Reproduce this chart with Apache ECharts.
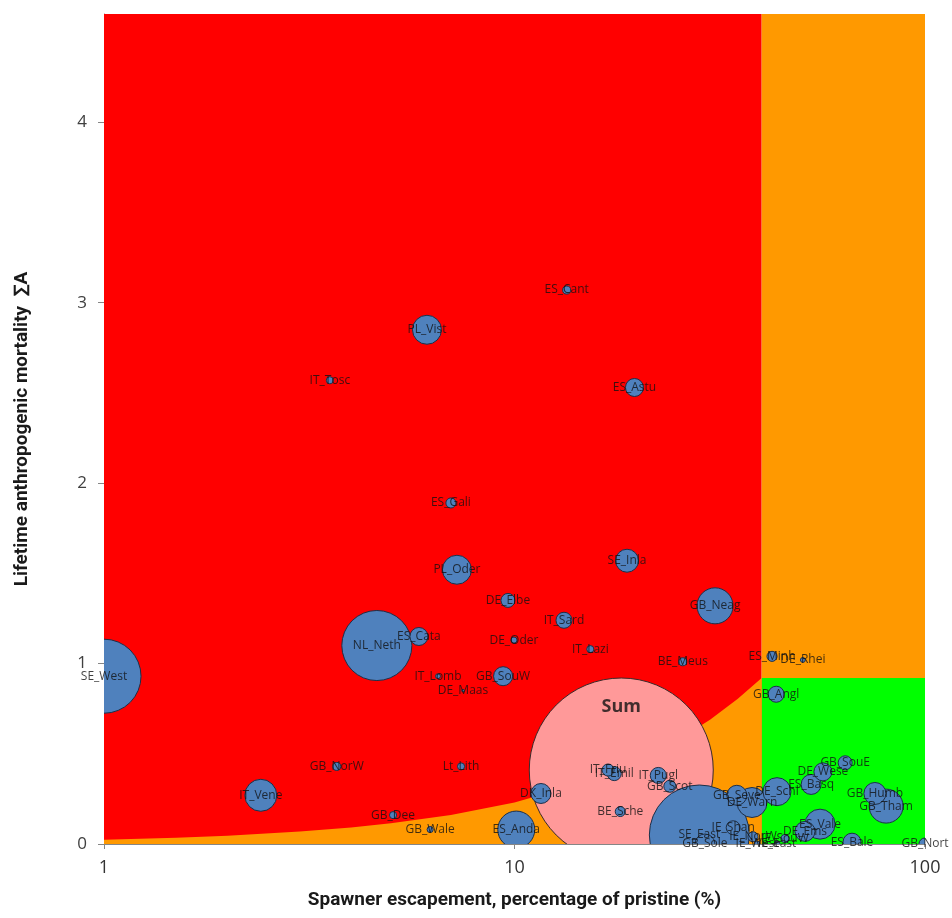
<!DOCTYPE html>
<html>
<head>
<meta charset="utf-8">
<script src="https://cdn.jsdelivr.net/npm/echarts@6/dist/echarts.min.js"></script>
<style>
html,body{margin:0;padding:0;background:#fff;}
#chart{width:952px;height:918px;}
</style>
</head>
<body>
<div id="chart"></div>
<script>
// ---- data ----
const emuNames = ['ES_Cant','PL_Vist','IT_Tosc','ES_Astu','ES_Gali','PL_Oder','SE_Inla','DE_Elbe','GB_Neag','IT_Sard',
  'NL_Neth','ES_Cata','DE_Oder','IT_Lazi','BE_Meus','ES_Minh','DE_Rhei','GB_Angl','SE_West','IT_Lomb',
  'GB_SouW','DE_Maas','IT_Vene','GB_NorW','Lt_Lith','GB_Dee','GB_Wale','DK_Inla','ES_Anda','IT_Friu',
  'IT_Emil','IT_Pugl','GB_Scot','BE_Sche','SE_East','GB_Sole','IE_Shan','IE_NorW','IE_SouW','IE_West',
  'IE_East','DE_Ems','ES_Vale','ES_Bale','GB_Nort','DE_Wese','GB_SouE','ES_Basq','GB_Humb','GB_Tham',
  'DE_Schl','GB_Seve','DE_Warn'];
// spawner escapement, % of pristine
const escapement = [13.4,6.12,3.55,19.6,7.0,7.24,18.8,9.64,30.8,13.2,
  4.62,5.85,9.97,15.3,25.7,42.4,50.4,43.4,1.0,6.51,
  9.38,7.49,2.41,3.69,7.41,5.06,6.23,11.6,10.1,16.9,
  17.5,22.4,23.9,18.1,28.2,29.1,34.1,38.1,45.6,39.0,
  43.6,51.0,55.5,66.4,100,56.4,63.9,52.8,75.5,80.4,
  43.6,34.8,37.9];
// lifetime anthropogenic mortality, sum A
const mortality = [3.07,2.85,2.57,2.53,1.89,1.52,1.57,1.35,1.32,1.24,
  1.10,1.15,1.13,1.08,1.01,1.04,1.02,0.83,0.93,0.93,
  0.93,0.85,0.27,0.43,0.43,0.16,0.08,0.28,0.08,0.41,
  0.39,0.38,0.32,0.18,0.05,0.0,0.09,0.04,0.03,0.0,
  0.0,0.07,0.11,0.01,0.0,0.40,0.45,0.33,0.28,0.21,
  0.29,0.27,0.23];
// bubble size (relative stock units, Sum = 100)
const stockSize = [0.19,2.48,0.15,0.96,0.30,2.48,1.56,0.58,3.83,0.76,
  14.5,0.96,0.11,0.15,0.19,0.30,0.07,0.76,16.2,0.07,
  1.07,0.02,3.02,0.19,0.15,0.15,0.11,1.18,4.04,0.43,
  0.58,0.76,0.43,0.30,29.5,1.18,0.58,0.30,0.19,0.11,
  0.11,1.18,2.66,0.96,0.43,0.96,0.58,1.18,1.43,3.41,
  2.32,1.18,2.66];
const sumName = 'Sum';
const sumEscapement = 18.2;
const sumMortality = 0.41;
const sumSize = 100;

// reference zones
const targetEscapement = 40;
const mortalityLimit = 0.92;
const axisTop = 4.6;
const limitCurveB = [1, 1.5, 2, 3, 4, 5, 7, 10, 15, 20, 25, 30, 35, 40];
const limitCurveA = [0.023, 0.0345, 0.046, 0.069, 0.092, 0.115, 0.161, 0.23, 0.345, 0.46, 0.575, 0.69, 0.805, 0.92];

const xTicks = [1, 10, 100];
const yTicks = [0, 1, 2, 3, 4];

const xTitle = 'Spawner escapement, percentage of pristine (%)';
const yTitle = 'Lifetime anthropogenic mortality  \u2211A';

// ---- build ----
const R_SCALE = 9.2;
const order = emuNames.map((_, i) => i).sort((a, b) => stockSize[b] - stockSize[a]);
const bubbleData = order.map(i => [escapement[i], mortality[i], stockSize[i]]);
const labelData = emuNames.map((n, i) => ({ name: n, value: [escapement[i], mortality[i]] }));

function zone(data, color) {
  return {
    type: 'line', data: data, symbol: 'none', silent: true,
    lineStyle: { width: 0, opacity: 0 },
    areaStyle: { color: color, opacity: 1 },
    z: 1
  };
}

const bubbleRender = (fill, stroke) => (params, api) => {
  const p = api.coord([api.value(0), api.value(1)]);
  const r = R_SCALE * Math.sqrt(api.value(2));
  return { type: 'circle', shape: { cx: p[0], cy: p[1], r: r },
    style: { fill: fill, stroke: stroke, lineWidth: 1 } };
};

const chart = echarts.init(document.getElementById('chart'), null, { renderer: 'canvas' });
chart.setOption({
  animation: false,
  backgroundColor: '#ffffff',
  grid: { left: 104, right: 27, top: 14, bottom: 74 },
  xAxis: {
    type: 'log', logBase: 10, min: 1, max: 100,
    axisLine: { show: true, lineStyle: { color: '#868686', width: 1 } },
    axisTick: { show: true, length: 5, lineStyle: { color: '#868686' } },
    splitLine: { show: false },
    minorTick: { show: false },
    axisLabel: { fontSize: 18, color: '#333', fontFamily: 'Open Sans', margin: 15 },
    name: xTitle, nameLocation: 'middle', nameGap: 47,
    nameTextStyle: { fontSize: 19, fontWeight: 'bold', color: '#1a1a1a', fontFamily: 'Roboto' }
  },
  yAxis: {
    type: 'value', min: 0, max: axisTop, interval: 1,
    axisLine: { show: true, lineStyle: { color: '#868686', width: 1 } },
    axisTick: { show: true, length: 6, lineStyle: { color: '#868686' }, customValues: yTicks },
    splitLine: { show: false },
    axisLabel: { fontSize: 17, color: '#404040', fontFamily: 'Open Sans', margin: 17, customValues: yTicks },
    name: yTitle, nameLocation: 'middle', nameGap: 72, nameRotate: 90,
    nameTextStyle: { fontSize: 19, fontWeight: 'bold', color: '#1a1a1a', fontFamily: 'Roboto' }
  },
  series: [
    zone([[1, axisTop], [targetEscapement, axisTop]], '#FF0000'),
    zone([[targetEscapement, axisTop], [100, axisTop]], '#FF9900'),
    zone([[targetEscapement, mortalityLimit], [100, mortalityLimit]], '#00FF00'),
    zone(limitCurveB.map((b, i) => [b, limitCurveA[i]]), '#FF9900'),
    {
      type: 'custom', name: sumName, clip: true, silent: true, z: 3,
      data: [[sumEscapement, sumMortality, sumSize]],
      encode: { x: 0, y: 1 },
      renderItem: bubbleRender('#FF9999', '#3a2a2a')
    },
    {
      type: 'custom', name: 'EMU', clip: true, silent: true, z: 4,
      data: bubbleData,
      encode: { x: 0, y: 1 },
      renderItem: bubbleRender('#4F81BD', '#1d2f48')
    },
    {
      type: 'scatter', name: 'labels', clip: false, silent: true, z: 10,
      symbol: 'circle', symbolSize: 1, itemStyle: { color: 'rgba(0,0,0,0)' },
      data: labelData,
      label: { show: true, position: 'inside', formatter: '{b}', color: '#111', fontSize: 12, fontFamily: 'Open Sans' },
      labelLayout: { hideOverlap: false }
    },
    {
      type: 'scatter', name: 'sumLabel', clip: false, silent: true, z: 10,
      symbol: 'circle', symbolSize: 1, itemStyle: { color: 'rgba(0,0,0,0)' },
      data: [{ name: sumName, value: [sumEscapement, sumMortality] }],
      label: { show: true, position: 'inside', offset: [0, -63], formatter: '{b}', color: '#111', fontSize: 18, fontWeight: 'bold', fontFamily: 'Open Sans' }
    }
  ]
});
</script>
</body>
</html>
